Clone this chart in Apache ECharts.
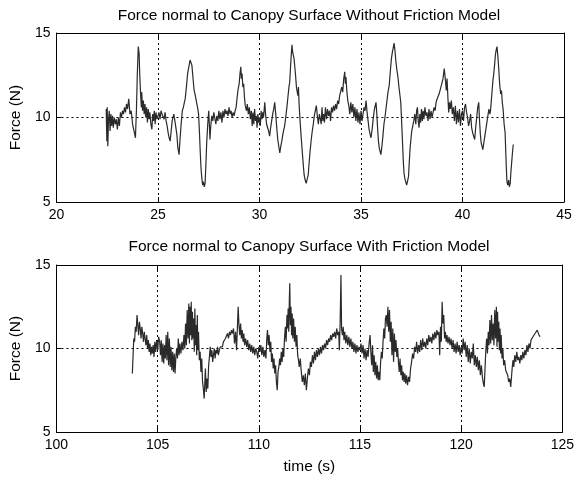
<!DOCTYPE html>
<html>
<head>
<meta charset="utf-8">
<script src="https://cdn.jsdelivr.net/npm/echarts@6/dist/echarts.min.js"></script>
<style>
  html, body { margin: 0; padding: 0; background: #fff; }
  #chart { width: 577px; height: 478px; }
</style>
</head>
<body>
<div id="chart"></div>
<script>
// titles and axes
var topTitle = 'Force normal to Canopy Surface Without Friction Model';
var bottomTitle = 'Force normal to Canopy Surface With Friction Model';
var yName = 'Force (N)';
var xName = 'time (s)';
var topXRange = [20, 45];
var bottomXRange = [100, 125];
var yRange = [5, 15];

// [time, force]
var withoutFriction = [
  [22.45,10.5],[22.48,8.6],[22.50,10.6],[22.53,8.3],[22.56,9.8],[22.60,10.4],[22.64,9.2],[22.68,10.2],
  [22.72,9.5],[22.76,10.1],[22.80,9.4],[22.85,10.0],[22.90,9.6],[22.95,9.9],[23.00,9.3],[23.05,10.0],
  [23.10,9.5],[23.15,10.3],[23.20,10.0],[23.25,10.4],[23.30,10.2],[23.35,10.6],[23.40,10.3],[23.45,10.8],
  [23.50,10.5],[23.56,11.1],[23.62,10.2],[23.68,10.4],[23.75,9.6],[23.82,9.2],[23.89,8.8],[23.94,10.5],
  [23.98,12.5],[24.03,14.2],[24.07,13.8],[24.10,12.6],[24.14,11.5],[24.18,10.6],[24.20,11.5],[24.24,10.4],
  [24.28,11.0],[24.32,10.2],[24.36,10.8],[24.40,10.0],[24.44,10.6],[24.48,9.7],[24.52,10.5],[24.56,9.9],
  [24.60,10.3],[24.65,9.6],[24.70,9.3],[24.74,10.2],[24.78,9.8],[24.82,10.4],[24.86,9.6],[24.90,10.3],
  [24.95,9.9],[25.00,10.1],[25.05,10.3],[25.10,9.9],[25.15,10.4],[25.20,10.2],[25.25,10.3],[25.30,9.9],
  [25.35,10.3],[25.40,9.8],[25.45,9.5],[25.50,9.1],[25.55,8.8],[25.60,8.6],[25.65,9.2],[25.70,9.8],
  [25.78,10.2],[25.82,9.9],[25.88,10.0],[25.93,9.0],[25.98,8.2],[26.04,7.8],[26.08,8.6],[26.14,9.6],
  [26.20,10.4],[26.25,10.6],[26.30,10.9],[26.34,11.1],[26.40,11.8],[26.46,12.6],[26.52,13.0],[26.58,13.4],
  [26.63,13.5],[26.67,13.1],[26.72,12.4],[26.78,11.6],[26.84,11.3],[26.90,10.9],[26.95,10.6],[27.00,10.2],
  [27.04,9.2],[27.08,8.0],[27.12,7.0],[27.16,6.4],[27.20,6.0],[27.24,6.2],[27.28,5.9],[27.32,6.1],
  [27.36,7.2],[27.40,8.5],[27.45,9.6],[27.50,10.4],[27.53,9.6],[27.56,8.7],[27.60,9.5],[27.65,10.1],
  [27.70,9.8],[27.75,10.3],[27.80,10.2],[27.85,9.6],[27.90,10.1],[27.95,9.8],[28.00,10.4],[28.05,9.9],
  [28.10,10.3],[28.15,9.7],[28.20,10.4],[28.25,10.0],[28.30,10.5],[28.35,10.2],[28.40,10.4],[28.45,10.1],
  [28.50,10.6],[28.55,10.2],[28.60,10.4],[28.65,10.0],[28.70,10.3],[28.75,10.1],[28.80,10.4],[28.85,10.6],
  [28.90,11.2],[28.95,11.7],[29.00,12.0],[29.04,12.6],[29.08,13.0],[29.11,12.3],[29.14,12.6],[29.18,11.8],
  [29.22,12.0],[29.26,11.2],[29.30,10.7],[29.36,10.4],[29.40,10.8],[29.45,10.2],[29.50,10.6],[29.55,9.9],
  [29.60,10.4],[29.64,9.5],[29.68,10.3],[29.72,9.6],[29.76,10.5],[29.80,9.8],[29.84,10.1],[29.88,9.4],
  [29.92,10.2],[29.96,9.7],[30.00,10.0],[30.04,9.5],[30.08,10.4],[30.12,9.9],[30.16,10.3],[30.20,10.0],
  [30.26,10.9],[30.30,10.2],[30.35,9.6],[30.40,9.5],[30.45,9.2],[30.50,8.9],[30.55,9.4],[30.60,9.8],
  [30.65,10.2],[30.70,10.5],[30.75,10.9],[30.80,10.2],[30.85,9.4],[30.90,8.7],[30.95,8.3],[31.00,7.9],
  [31.05,8.3],[31.10,8.6],[31.15,9.0],[31.20,9.3],[31.24,9.5],[31.30,10.1],[31.35,10.6],[31.40,11.2],
  [31.45,11.8],[31.49,12.1],[31.53,13.0],[31.57,13.8],[31.60,14.3],[31.63,13.9],[31.67,13.8],[31.70,13.5],
  [31.73,13.4],[31.77,12.6],[31.82,11.8],[31.86,11.5],[31.89,11.3],[31.92,11.8],[31.95,10.8],[32.00,9.8],
  [32.05,8.9],[32.10,8.1],[32.15,7.3],[32.20,6.6],[32.25,6.3],[32.30,6.1],[32.35,6.0],[32.40,6.6],
  [32.45,7.4],[32.50,8.1],[32.55,8.7],[32.60,9.2],[32.65,9.6],[32.70,10.1],[32.75,10.4],[32.80,10.7],
  [32.85,10.1],[32.90,9.6],[32.95,10.2],[33.00,9.9],[33.04,9.6],[33.08,10.6],[33.12,9.8],[33.16,10.2],
  [33.20,9.7],[33.25,10.6],[33.30,9.9],[33.35,10.5],[33.40,10.1],[33.45,10.4],[33.50,9.8],[33.55,10.6],
  [33.60,10.3],[33.65,10.7],[33.70,10.4],[33.75,10.8],[33.80,10.5],[33.85,11.0],[33.90,10.8],[33.95,11.3],
  [34.00,11.4],[34.05,11.8],[34.10,11.5],[34.15,12.3],[34.20,12.7],[34.23,12.0],[34.26,12.4],[34.30,11.6],
  [34.35,11.0],[34.40,10.7],[34.45,10.2],[34.50,10.9],[34.55,10.3],[34.60,10.8],[34.65,10.0],[34.70,10.6],
  [34.75,9.8],[34.80,10.5],[34.85,9.7],[34.90,10.3],[34.95,9.6],[35.00,10.4],[35.05,9.8],[35.10,10.2],
  [35.15,10.6],[35.20,10.4],[35.25,11.0],[35.30,10.3],[35.35,9.8],[35.40,9.3],[35.45,9.0],[35.49,8.8],
  [35.55,9.3],[35.60,9.9],[35.65,10.4],[35.70,10.7],[35.74,10.9],[35.78,10.2],[35.82,9.3],[35.86,8.6],
  [35.90,8.2],[35.94,8.0],[35.98,7.8],[36.03,8.3],[36.08,8.9],[36.13,9.6],[36.18,10.0],[36.23,10.5],
  [36.28,11.0],[36.33,11.5],[36.39,11.9],[36.45,12.8],[36.50,13.5],[36.55,13.9],[36.60,14.2],[36.63,14.4],
  [36.67,14.0],[36.72,13.3],[36.77,12.8],[36.82,12.4],[36.87,11.8],[36.92,11.3],[36.96,10.9],[37.00,9.8],
  [37.04,8.7],[37.08,7.5],[37.12,6.7],[37.16,6.4],[37.20,6.2],[37.25,6.0],[37.30,5.9],[37.34,6.5],
  [37.38,7.4],[37.42,8.2],[37.45,8.6],[37.50,9.2],[37.55,9.5],[37.60,9.8],[37.65,10.2],[37.70,9.6],
  [37.74,10.4],[37.78,10.6],[37.82,9.8],[37.86,9.4],[37.90,10.2],[37.94,9.7],[37.98,10.5],[38.02,9.8],
  [38.06,10.4],[38.10,9.9],[38.15,10.6],[38.20,10.1],[38.25,10.3],[38.30,9.8],[38.35,10.5],[38.40,9.9],
  [38.45,10.4],[38.50,10.0],[38.55,10.3],[38.60,10.6],[38.65,10.4],[38.70,10.9],[38.75,11.1],[38.80,11.0],
  [38.85,11.4],[38.92,11.5],[38.98,12.0],[39.04,12.3],[39.10,12.9],[39.13,12.8],[39.16,12.2],[39.20,11.6],
  [39.24,12.3],[39.28,11.2],[39.32,10.3],[39.36,10.9],[39.40,10.5],[39.45,11.0],[39.50,10.2],[39.55,10.6],
  [39.60,9.8],[39.65,10.7],[39.70,9.6],[39.75,10.4],[39.80,9.7],[39.85,10.5],[39.90,9.5],[39.95,10.2],
  [40.00,10.4],[40.05,9.8],[40.10,10.6],[40.15,10.8],[40.20,10.3],[40.25,10.0],[40.30,9.5],[40.35,9.8],
  [40.40,10.2],[40.45,9.4],[40.50,9.1],[40.55,8.9],[40.60,8.7],[40.65,9.4],[40.70,10.0],[40.75,10.6],
  [40.80,10.9],[40.84,9.8],[40.88,9.0],[40.92,8.5],[40.96,8.3],[41.00,8.1],[41.05,8.5],[41.10,8.9],
  [41.15,9.3],[41.20,9.7],[41.25,10.1],[41.30,10.5],[41.35,10.2],[41.38,10.4],[41.42,11.0],[41.46,11.6],
  [41.50,12.2],[41.54,12.6],[41.58,13.1],[41.62,13.7],[41.66,14.0],[41.70,14.2],[41.72,14.3],[41.75,13.5],
  [41.79,12.8],[41.83,12.0],[41.88,11.4],[41.92,11.6],[41.96,10.9],[42.00,10.5],[42.05,9.6],[42.10,9.1],
  [42.13,8.0],[42.16,7.0],[42.19,6.2],[42.23,6.0],[42.27,6.3],[42.31,5.9],[42.35,6.1],[42.38,6.7],
  [42.42,7.3],[42.46,7.9],[42.50,8.4]
];

var withFriction = [
  [103.75,8.5],[103.80,8.5],[103.82,10.6],[103.86,10.4],[103.90,11.3],[103.94,11.0],[103.98,12.0],[104.02,11.4],
  [104.06,10.8],[104.10,11.6],[104.14,11.2],[104.18,10.6],[104.22,11.3],[104.26,10.9],[104.30,10.4],[104.34,11.0],
  [104.38,10.6],[104.42,10.2],[104.46,10.8],[104.50,10.0],[104.54,10.5],[104.58,9.8],[104.62,10.3],[104.66,9.6],
  [104.70,10.1],[104.74,9.7],[104.78,10.2],[104.82,9.5],[104.86,10.4],[104.90,9.8],[104.95,10.5],[105.00,9.9],
  [105.05,10.7],[105.10,10.4],[105.14,9.6],[105.18,10.5],[105.22,9.2],[105.26,10.3],[105.30,9.1],[105.34,10.2],
  [105.38,9.4],[105.42,10.8],[105.46,9.3],[105.50,11.0],[105.54,9.0],[105.58,10.6],[105.62,8.9],[105.66,10.1],
  [105.70,8.7],[105.74,9.8],[105.78,8.6],[105.82,9.7],[105.86,8.5],[105.90,9.5],[105.94,10.0],[105.98,9.4],
  [106.02,10.6],[106.06,9.6],[106.10,10.3],[106.15,9.7],[106.20,10.4],[106.25,9.9],[106.30,10.8],[106.34,10.0],
  [106.38,11.5],[106.42,10.2],[106.46,12.3],[106.50,10.6],[106.54,12.7],[106.57,10.3],[106.60,12.5],[106.63,10.8],
  [106.66,12.8],[106.69,10.5],[106.72,12.2],[106.75,10.6],[106.78,11.8],[106.81,9.8],[106.84,12.4],[106.87,10.2],
  [106.90,11.4],[106.93,9.6],[106.96,12.0],[106.99,9.9],[107.02,11.0],[107.06,9.3],[107.10,9.8],[107.14,8.6],
  [107.18,9.4],[107.22,8.0],[107.26,7.6],[107.30,7.0],[107.33,6.9],[107.36,8.8],[107.40,7.4],[107.44,8.2],
  [107.48,7.6],[107.52,9.0],[107.56,9.5],[107.60,10.1],[107.64,9.5],[107.68,9.9],[107.72,9.2],[107.76,9.6],
  [107.80,10.0],[107.84,9.4],[107.88,9.9],[107.92,9.7],[107.96,10.1],[108.00,9.6],[108.05,9.9],[108.10,10.1],
  [108.15,10.2],[108.20,10.1],[108.25,10.4],[108.30,10.3],[108.35,10.6],[108.40,10.5],[108.45,10.9],[108.50,10.6],
  [108.55,11.0],[108.60,10.8],[108.65,11.1],[108.70,10.9],[108.75,11.2],[108.80,10.3],[108.85,11.0],[108.90,9.9],
  [108.94,11.2],[108.98,12.5],[109.02,11.4],[109.06,10.8],[109.10,11.5],[109.14,10.6],[109.18,11.1],[109.22,10.4],
  [109.26,10.9],[109.30,10.2],[109.35,10.6],[109.40,10.1],[109.45,10.5],[109.50,9.9],[109.55,10.3],[109.60,9.8],
  [109.65,10.2],[109.70,9.7],[109.75,10.1],[109.80,9.6],[109.85,10.0],[109.90,9.8],[109.95,9.4],[110.00,10.1],
  [110.05,9.8],[110.10,10.2],[110.15,9.6],[110.20,10.1],[110.25,9.5],[110.30,9.9],[110.35,9.4],[110.40,10.7],
  [110.43,11.1],[110.47,10.2],[110.51,10.8],[110.55,9.8],[110.59,10.4],[110.63,9.2],[110.67,9.7],[110.71,8.8],
  [110.75,9.4],[110.79,8.5],[110.83,9.0],[110.87,8.0],[110.91,7.5],[110.95,8.6],[110.99,8.9],[111.03,9.4],
  [111.07,9.0],[111.11,9.8],[111.15,9.2],[111.19,10.0],[111.23,9.5],[111.27,10.6],[111.31,11.3],[111.35,10.4],
  [111.39,12.0],[111.42,11.2],[111.45,12.4],[111.48,11.0],[111.51,13.0],[111.53,13.9],[111.56,11.4],[111.59,12.5],
  [111.62,10.8],[111.65,12.1],[111.68,10.6],[111.72,11.8],[111.76,10.4],[111.80,11.3],[111.84,10.1],[111.88,10.8],
  [111.92,9.6],[111.96,9.3],[112.00,8.9],[112.05,9.4],[112.10,8.6],[112.15,8.0],[112.20,8.4],[112.25,7.8],
  [112.30,8.5],[112.35,7.5],[112.40,8.2],[112.45,8.8],[112.50,8.4],[112.55,9.2],[112.60,8.9],[112.65,9.6],
  [112.70,9.1],[112.75,9.8],[112.80,9.3],[112.85,9.9],[112.90,9.5],[112.95,10.0],[113.00,9.6],[113.05,10.1],
  [113.10,9.7],[113.15,10.2],[113.20,9.9],[113.25,10.3],[113.30,10.0],[113.35,10.5],[113.40,10.2],[113.45,10.6],
  [113.50,10.4],[113.55,10.8],[113.60,10.5],[113.65,10.9],[113.70,10.7],[113.75,11.0],[113.80,10.6],[113.85,11.2],
  [113.90,10.8],[113.95,11.0],[113.98,9.9],[114.02,11.6],[114.06,14.4],[114.09,11.2],[114.13,10.8],[114.17,11.3],
  [114.21,10.5],[114.25,11.0],[114.30,10.3],[114.35,10.8],[114.40,10.2],[114.45,10.7],[114.50,10.1],[114.55,10.6],
  [114.60,10.0],[114.65,10.4],[114.70,9.8],[114.75,10.3],[114.80,9.7],[114.85,10.2],[114.90,9.8],[114.95,10.1],
  [115.00,9.9],[115.05,10.3],[115.10,9.7],[115.15,10.2],[115.20,9.4],[115.25,10.0],[115.30,9.3],[115.35,9.9],
  [115.40,9.5],[115.45,10.3],[115.50,10.8],[115.54,9.7],[115.58,9.0],[115.62,10.2],[115.66,8.6],[115.70,9.6],
  [115.74,8.4],[115.78,9.2],[115.82,8.2],[115.86,9.0],[115.90,8.1],[115.94,8.6],[115.98,8.1],[116.02,9.2],
  [116.06,9.8],[116.10,9.4],[116.14,10.4],[116.18,11.2],[116.22,10.6],[116.26,11.8],[116.30,12.0],[116.34,11.3],
  [116.38,12.5],[116.42,11.0],[116.46,12.3],[116.50,10.4],[116.54,11.6],[116.58,9.6],[116.62,11.2],[116.66,9.2],
  [116.70,10.9],[116.74,9.8],[116.78,10.5],[116.82,9.5],[116.86,10.0],[116.90,9.2],[116.94,8.6],[116.98,9.4],
  [117.02,8.4],[117.06,9.0],[117.10,8.1],[117.14,8.6],[117.18,8.0],[117.22,8.5],[117.26,7.9],[117.30,8.4],
  [117.35,7.8],[117.40,8.3],[117.45,8.0],[117.50,8.8],[117.55,9.2],[117.60,9.7],[117.65,9.4],[117.70,10.1],
  [117.75,9.8],[117.80,10.4],[117.85,9.7],[117.90,10.2],[117.95,9.8],[118.00,10.5],[118.05,9.9],[118.10,10.6],
  [118.15,10.1],[118.20,10.4],[118.25,10.0],[118.30,10.6],[118.35,10.2],[118.40,10.8],[118.45,10.4],[118.50,10.7],
  [118.55,10.3],[118.60,10.9],[118.65,10.5],[118.70,11.0],[118.75,10.6],[118.80,11.1],[118.85,10.8],[118.90,11.0],
  [118.94,9.6],[118.98,11.3],[119.02,10.4],[119.06,12.8],[119.10,11.5],[119.14,12.0],[119.18,10.6],[119.22,11.0],
  [119.26,10.4],[119.30,10.8],[119.35,10.3],[119.40,10.7],[119.45,10.2],[119.50,10.6],[119.55,10.0],[119.60,10.5],
  [119.65,9.8],[119.70,10.3],[119.75,9.7],[119.80,10.4],[119.85,9.8],[119.90,10.2],[119.95,9.6],[120.00,10.1],
  [120.05,9.7],[120.10,10.6],[120.15,9.9],[120.20,10.4],[120.25,9.5],[120.30,10.2],[120.35,9.2],[120.40,10.0],
  [120.45,9.1],[120.50,9.8],[120.55,9.4],[120.60,10.3],[120.65,9.0],[120.70,9.6],[120.75,8.9],[120.80,9.5],
  [120.85,8.7],[120.90,9.3],[120.95,8.4],[121.00,9.0],[121.05,8.3],[121.10,7.9],[121.14,7.7],[121.18,8.8],
  [121.22,9.9],[121.26,10.6],[121.30,9.7],[121.34,11.0],[121.38,10.2],[121.42,11.7],[121.46,10.3],[121.50,12.0],
  [121.54,10.5],[121.58,11.5],[121.62,10.2],[121.66,12.3],[121.70,10.6],[121.74,12.5],[121.77,10.1],[121.80,12.2],
  [121.83,10.4],[121.86,11.6],[121.89,9.9],[121.92,11.2],[121.95,9.7],[121.98,10.8],[122.02,9.4],[122.06,10.0],
  [122.10,9.0],[122.15,9.3],[122.20,8.7],[122.25,8.6],[122.30,8.4],[122.35,8.0],[122.40,8.2],[122.45,7.7],
  [122.48,7.6],[122.52,8.8],[122.56,9.3],[122.60,8.9],[122.65,9.6],[122.70,9.2],[122.75,9.8],[122.80,9.3],
  [122.85,9.5],[122.90,9.1],[122.95,9.6],[123.00,9.3],[123.05,9.8],[123.10,9.4],[123.15,9.9],[123.20,9.6],
  [123.25,10.2],[123.30,9.8],[123.35,10.3],[123.40,10.0],[123.45,10.5],[123.50,10.4],[123.55,10.7],[123.60,10.6],
  [123.65,10.9],[123.70,10.8],[123.76,11.1],[123.80,11.0],[123.85,10.8],[123.90,10.7]
];

var chart = echarts.init(document.getElementById('chart'), null, { renderer: 'canvas' });

var font = '"Liberation Sans", Arial, Helvetica, sans-serif';
var black = '#000';
var gridDash = { color: black, width: 1, type: [2, 3] };

function bottomAxis(gi, range, withName) {
  return {
    type: 'value', gridIndex: gi, position: 'bottom',
    min: range[0], max: range[1], interval: 5,
    axisLine: { show: true, onZero: false, lineStyle: { color: black, width: 1 } },
    axisTick: { show: true, inside: true, length: 5, lineStyle: { color: black } },
    axisLabel: { show: true, color: black, fontFamily: font, fontSize: 14, margin: 6 },
    splitLine: { show: true, lineStyle: gridDash },
    name: withName ? xName : '', nameLocation: 'middle', nameGap: 27,
    nameTextStyle: { color: black, fontFamily: font, fontSize: 15.5 }
  };
}
function topAxis(gi, range) {
  return {
    type: 'value', gridIndex: gi, position: 'top',
    min: range[0], max: range[1], interval: 5,
    axisLine: { show: true, onZero: false, lineStyle: { color: black, width: 1 } },
    axisTick: { show: true, inside: true, length: 5, lineStyle: { color: black } },
    axisLabel: { show: false },
    splitLine: { show: false }
  };
}
function leftAxis(gi) {
  return {
    type: 'value', gridIndex: gi, position: 'left',
    min: yRange[0], max: yRange[1], interval: 5,
    axisLine: { show: true, onZero: false, lineStyle: { color: black, width: 1 } },
    axisTick: { show: true, inside: true, length: 5, lineStyle: { color: black } },
    axisLabel: { show: true, color: black, fontFamily: font, fontSize: 14, margin: 6 },
    splitLine: { show: true, lineStyle: gridDash },
    name: yName, nameLocation: 'middle', nameGap: 27,
    nameTextStyle: { color: black, fontFamily: font, fontSize: 15.5 }
  };
}
function rightAxis(gi) {
  return {
    type: 'value', gridIndex: gi, position: 'right',
    min: yRange[0], max: yRange[1], interval: 5,
    axisLine: { show: true, onZero: false, lineStyle: { color: black, width: 1 } },
    axisTick: { show: true, inside: true, length: 5, lineStyle: { color: black } },
    axisLabel: { show: false },
    splitLine: { show: false }
  };
}

var option = {
  backgroundColor: '#fff',
  animation: false,
  title: [
    { text: topTitle, left: 309, top: 8, textAlign: 'center', padding: 0,
      textStyle: { color: black, fontFamily: font, fontSize: 15.5, fontWeight: 'normal' } },
    { text: bottomTitle, left: 309, top: 239, textAlign: 'center', padding: 0,
      textStyle: { color: black, fontFamily: font, fontSize: 15.5, fontWeight: 'normal' } }
  ],
  grid: [
    { left: 54, right: 13, top: 33, height: 169 },
    { left: 54, right: 13, top: 265, height: 167 }
  ],
  xAxis: [
    bottomAxis(0, topXRange, false),
    topAxis(0, topXRange),
    bottomAxis(1, bottomXRange, true),
    topAxis(1, bottomXRange)
  ],
  yAxis: [
    leftAxis(0),
    rightAxis(0),
    leftAxis(1),
    rightAxis(1)
  ],
  series: [
    {
      type: 'line', xAxisIndex: 0, yAxisIndex: 0, data: withoutFriction,
      showSymbol: false, symbol: 'none',
      lineStyle: { color: '#2a2a2a', width: 1.2 }
    },
    {
      type: 'line', xAxisIndex: 2, yAxisIndex: 2, data: withFriction,
      showSymbol: false, symbol: 'none',
      lineStyle: { color: '#2a2a2a', width: 1.2 }
    }
  ]
};

chart.setOption(option);
</script>
</body>
</html>
